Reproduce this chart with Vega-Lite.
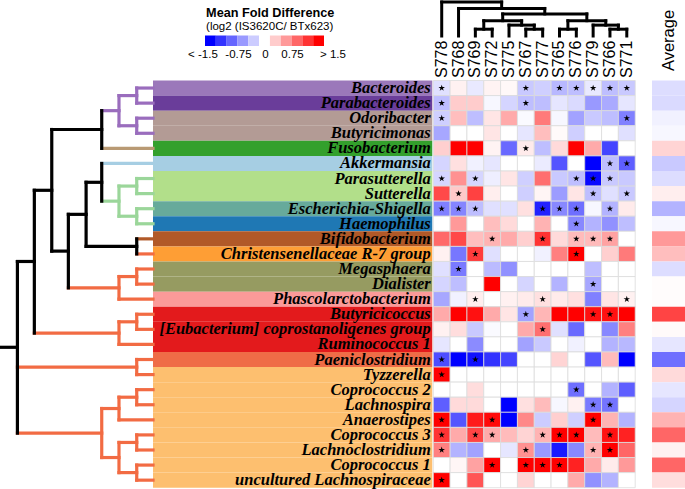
{
"$schema": "https://vega.github.io/schema/vega-lite/v6.json",
"width": 685, "height": 489, "padding": 0, "autosize": {"type": "none"},
"background": "white",
"config": {"view": {"stroke": null}},
"datasets": {
"taxa": [
{"genus":"Bacteroides","family":"Bacteroidaceae"},
{"genus":"Parabacteroides","family":"Tannerellaceae"},
{"genus":"Odoribacter","family":"Marinifilaceae"},
{"genus":"Butyricimonas","family":"Marinifilaceae"},
{"genus":"Fusobacterium","family":"Fusobacteriaceae"},
{"genus":"Akkermansia","family":"Akkermansiaceae"},
{"genus":"Parasutterella","family":"Sutterellaceae"},
{"genus":"Sutterella","family":"Sutterellaceae"},
{"genus":"Escherichia-Shigella","family":"Enterobacteriaceae"},
{"genus":"Haemophilus","family":"Pasteurellaceae"},
{"genus":"Bifidobacterium","family":"Bifidobacteriaceae"},
{"genus":"Christensenellaceae R-7 group","family":"Christensenellaceae"},
{"genus":"Megasphaera","family":"Veillonellaceae"},
{"genus":"Dialister","family":"Veillonellaceae"},
{"genus":"Phascolarctobacterium","family":"Acidaminococcaceae"},
{"genus":"Butyricicoccus","family":"Ruminococcaceae"},
{"genus":"[Eubacterium] coprostanoligenes group","family":"Ruminococcaceae"},
{"genus":"Ruminococcus 1","family":"Ruminococcaceae"},
{"genus":"Paeniclostridium","family":"Peptostreptococcaceae"},
{"genus":"Tyzzerella","family":"Lachnospiraceae"},
{"genus":"Coprococcus 2","family":"Lachnospiraceae"},
{"genus":"Lachnospira","family":"Lachnospiraceae"},
{"genus":"Anaerostipes","family":"Lachnospiraceae"},
{"genus":"Coprococcus 3","family":"Lachnospiraceae"},
{"genus":"Lachnoclostridium","family":"Lachnospiraceae"},
{"genus":"Coprococcus 1","family":"Lachnospiraceae"},
{"genus":"uncultured Lachnospiraceae","family":"Lachnospiraceae"}
],
"avg": [
{"genus":"Bacteroides","value":-0.2},
{"genus":"Parabacteroides","value":-0.22},
{"genus":"Odoribacter","value":-0.08},
{"genus":"Butyricimonas","value":-0.05},
{"genus":"Fusobacterium","value":0.25},
{"genus":"Akkermansia","value":-0.32},
{"genus":"Parasutterella","value":-0.2},
{"genus":"Sutterella","value":0.1},
{"genus":"Escherichia-Shigella","value":-0.45},
{"genus":"Haemophilus","value":-0.05},
{"genus":"Bifidobacterium","value":0.6},
{"genus":"Christensenellaceae R-7 group","value":0.38},
{"genus":"Megasphaera","value":-0.2},
{"genus":"Dialister","value":0.02},
{"genus":"Phascolarctobacterium","value":0.02},
{"genus":"Butyricicoccus","value":1.1},
{"genus":"[Eubacterium] coprostanoligenes group","value":0.03},
{"genus":"Ruminococcus 1","value":-0.15},
{"genus":"Paeniclostridium","value":-0.85},
{"genus":"Tyzzerella","value":0.22},
{"genus":"Coprococcus 2","value":-0.15},
{"genus":"Lachnospira","value":-0.25},
{"genus":"Anaerostipes","value":0.45},
{"genus":"Coprococcus 3","value":0.9},
{"genus":"Lachnoclostridium","value":0.08},
{"genus":"Coprococcus 1","value":0.9},
{"genus":"uncultured Lachnospiraceae","value":0.2}
],
"cells": [
{"genus":"Bacteroides","sample":"S778","value":-0.18,"sig":1},{"genus":"Bacteroides","sample":"S768","value":0.08,"sig":0},{"genus":"Bacteroides","sample":"S769","value":-0.13,"sig":0},{"genus":"Bacteroides","sample":"S772","value":0.07,"sig":0},{"genus":"Bacteroides","sample":"S775","value":0.04,"sig":0},{"genus":"Bacteroides","sample":"S767","value":-0.32,"sig":1},{"genus":"Bacteroides","sample":"S777","value":-0.28,"sig":0},{"genus":"Bacteroides","sample":"S765","value":-0.42,"sig":1},{"genus":"Bacteroides","sample":"S776","value":-0.38,"sig":1},{"genus":"Bacteroides","sample":"S779","value":-0.13,"sig":1},{"genus":"Bacteroides","sample":"S766","value":-0.38,"sig":1},{"genus":"Bacteroides","sample":"S771","value":-0.32,"sig":1},
{"genus":"Parabacteroides","sample":"S778","value":-0.38,"sig":1},{"genus":"Parabacteroides","sample":"S768","value":0.3,"sig":0},{"genus":"Parabacteroides","sample":"S769","value":0.3,"sig":0},{"genus":"Parabacteroides","sample":"S772","value":-0.05,"sig":0},{"genus":"Parabacteroides","sample":"S775","value":-0.25,"sig":0},{"genus":"Parabacteroides","sample":"S767","value":-0.38,"sig":1},{"genus":"Parabacteroides","sample":"S777","value":-0.38,"sig":0},{"genus":"Parabacteroides","sample":"S765","value":-0.15,"sig":0},{"genus":"Parabacteroides","sample":"S776","value":-0.22,"sig":0},{"genus":"Parabacteroides","sample":"S779","value":-0.6,"sig":0},{"genus":"Parabacteroides","sample":"S766","value":-0.5,"sig":0},{"genus":"Parabacteroides","sample":"S771","value":-0.15,"sig":0},
{"genus":"Odoribacter","sample":"S778","value":-0.28,"sig":1},{"genus":"Odoribacter","sample":"S768","value":0.38,"sig":0},{"genus":"Odoribacter","sample":"S769","value":-0.38,"sig":0},{"genus":"Odoribacter","sample":"S772","value":0.15,"sig":0},{"genus":"Odoribacter","sample":"S775","value":0.5,"sig":0},{"genus":"Odoribacter","sample":"S767","value":-0.03,"sig":0},{"genus":"Odoribacter","sample":"S777","value":0.78,"sig":0},{"genus":"Odoribacter","sample":"S765","value":-0.05,"sig":0},{"genus":"Odoribacter","sample":"S776","value":-0.55,"sig":0},{"genus":"Odoribacter","sample":"S779","value":-0.32,"sig":0},{"genus":"Odoribacter","sample":"S766","value":-0.38,"sig":0},{"genus":"Odoribacter","sample":"S771","value":-0.75,"sig":1},
{"genus":"Butyricimonas","sample":"S778","value":-0.52,"sig":0},{"genus":"Butyricimonas","sample":"S768","value":0,"sig":0},{"genus":"Butyricimonas","sample":"S769","value":0,"sig":0},{"genus":"Butyricimonas","sample":"S772","value":0.15,"sig":0},{"genus":"Butyricimonas","sample":"S775","value":0,"sig":0},{"genus":"Butyricimonas","sample":"S767","value":-0.15,"sig":0},{"genus":"Butyricimonas","sample":"S777","value":0.38,"sig":0},{"genus":"Butyricimonas","sample":"S765","value":0.03,"sig":0},{"genus":"Butyricimonas","sample":"S776","value":-0.28,"sig":0},{"genus":"Butyricimonas","sample":"S779","value":0,"sig":0},{"genus":"Butyricimonas","sample":"S766","value":0,"sig":0},{"genus":"Butyricimonas","sample":"S771","value":-0.18,"sig":0},
{"genus":"Fusobacterium","sample":"S778","value":0.28,"sig":0},{"genus":"Fusobacterium","sample":"S768","value":1.5,"sig":0},{"genus":"Fusobacterium","sample":"S769","value":1.5,"sig":0},{"genus":"Fusobacterium","sample":"S772","value":0.07,"sig":0},{"genus":"Fusobacterium","sample":"S775","value":-0.88,"sig":0},{"genus":"Fusobacterium","sample":"S767","value":0.12,"sig":1},{"genus":"Fusobacterium","sample":"S777","value":-0.38,"sig":0},{"genus":"Fusobacterium","sample":"S765","value":0.22,"sig":0},{"genus":"Fusobacterium","sample":"S776","value":1.5,"sig":0},{"genus":"Fusobacterium","sample":"S779","value":0.5,"sig":0},{"genus":"Fusobacterium","sample":"S766","value":-1.1,"sig":0},{"genus":"Fusobacterium","sample":"S771","value":0,"sig":0},
{"genus":"Akkermansia","sample":"S778","value":-0.25,"sig":0},{"genus":"Akkermansia","sample":"S768","value":0.18,"sig":0},{"genus":"Akkermansia","sample":"S769","value":-0.08,"sig":0},{"genus":"Akkermansia","sample":"S772","value":-0.15,"sig":0},{"genus":"Akkermansia","sample":"S775","value":0,"sig":0},{"genus":"Akkermansia","sample":"S767","value":0,"sig":0},{"genus":"Akkermansia","sample":"S777","value":-0.12,"sig":0},{"genus":"Akkermansia","sample":"S765","value":-1.0,"sig":0},{"genus":"Akkermansia","sample":"S776","value":0,"sig":0},{"genus":"Akkermansia","sample":"S779","value":-1.5,"sig":0},{"genus":"Akkermansia","sample":"S766","value":-0.38,"sig":1},{"genus":"Akkermansia","sample":"S771","value":-0.95,"sig":1},
{"genus":"Parasutterella","sample":"S778","value":-0.25,"sig":1},{"genus":"Parasutterella","sample":"S768","value":0.65,"sig":0},{"genus":"Parasutterella","sample":"S769","value":-0.25,"sig":1},{"genus":"Parasutterella","sample":"S772","value":-0.1,"sig":0},{"genus":"Parasutterella","sample":"S775","value":0.15,"sig":0},{"genus":"Parasutterella","sample":"S767","value":-0.28,"sig":0},{"genus":"Parasutterella","sample":"S777","value":0.85,"sig":0},{"genus":"Parasutterella","sample":"S765","value":-0.32,"sig":0},{"genus":"Parasutterella","sample":"S776","value":-0.38,"sig":1},{"genus":"Parasutterella","sample":"S779","value":-1.45,"sig":1},{"genus":"Parasutterella","sample":"S766","value":-0.32,"sig":1},{"genus":"Parasutterella","sample":"S771","value":-0.32,"sig":0},
{"genus":"Sutterella","sample":"S778","value":1.07,"sig":0},{"genus":"Sutterella","sample":"S768","value":0.32,"sig":1},{"genus":"Sutterella","sample":"S769","value":1.12,"sig":0},{"genus":"Sutterella","sample":"S772","value":0.1,"sig":0},{"genus":"Sutterella","sample":"S775","value":0,"sig":0},{"genus":"Sutterella","sample":"S767","value":-0.28,"sig":0},{"genus":"Sutterella","sample":"S777","value":0.06,"sig":0},{"genus":"Sutterella","sample":"S765","value":-0.58,"sig":0},{"genus":"Sutterella","sample":"S776","value":0.15,"sig":0},{"genus":"Sutterella","sample":"S779","value":-0.38,"sig":1},{"genus":"Sutterella","sample":"S766","value":-0.18,"sig":0},{"genus":"Sutterella","sample":"S771","value":-0.32,"sig":1},
{"genus":"Escherichia-Shigella","sample":"S778","value":-0.75,"sig":1},{"genus":"Escherichia-Shigella","sample":"S768","value":-0.72,"sig":1},{"genus":"Escherichia-Shigella","sample":"S769","value":-0.38,"sig":1},{"genus":"Escherichia-Shigella","sample":"S772","value":-0.18,"sig":0},{"genus":"Escherichia-Shigella","sample":"S775","value":-0.18,"sig":0},{"genus":"Escherichia-Shigella","sample":"S767","value":0.18,"sig":0},{"genus":"Escherichia-Shigella","sample":"S777","value":-1.3,"sig":1},{"genus":"Escherichia-Shigella","sample":"S765","value":-0.7,"sig":1},{"genus":"Escherichia-Shigella","sample":"S776","value":-0.85,"sig":1},{"genus":"Escherichia-Shigella","sample":"S779","value":-0.05,"sig":0},{"genus":"Escherichia-Shigella","sample":"S766","value":-0.45,"sig":1},{"genus":"Escherichia-Shigella","sample":"S771","value":0.12,"sig":0},
{"genus":"Haemophilus","sample":"S778","value":0,"sig":0},{"genus":"Haemophilus","sample":"S768","value":0.6,"sig":0},{"genus":"Haemophilus","sample":"S769","value":0,"sig":0},{"genus":"Haemophilus","sample":"S772","value":0.38,"sig":0},{"genus":"Haemophilus","sample":"S775","value":0.22,"sig":0},{"genus":"Haemophilus","sample":"S767","value":0,"sig":0},{"genus":"Haemophilus","sample":"S777","value":0.45,"sig":0},{"genus":"Haemophilus","sample":"S765","value":0,"sig":0},{"genus":"Haemophilus","sample":"S776","value":-0.7,"sig":1},{"genus":"Haemophilus","sample":"S779","value":-0.45,"sig":0},{"genus":"Haemophilus","sample":"S766","value":-0.65,"sig":0},{"genus":"Haemophilus","sample":"S771","value":-0.38,"sig":0},
{"genus":"Bifidobacterium","sample":"S778","value":0.88,"sig":0},{"genus":"Bifidobacterium","sample":"S768","value":1.07,"sig":0},{"genus":"Bifidobacterium","sample":"S769","value":0.38,"sig":0},{"genus":"Bifidobacterium","sample":"S772","value":0.45,"sig":1},{"genus":"Bifidobacterium","sample":"S775","value":0.5,"sig":0},{"genus":"Bifidobacterium","sample":"S767","value":0.28,"sig":0},{"genus":"Bifidobacterium","sample":"S777","value":1.2,"sig":1},{"genus":"Bifidobacterium","sample":"S765","value":0.22,"sig":0},{"genus":"Bifidobacterium","sample":"S776","value":0.4,"sig":1},{"genus":"Bifidobacterium","sample":"S779","value":0.4,"sig":1},{"genus":"Bifidobacterium","sample":"S766","value":0.55,"sig":1},{"genus":"Bifidobacterium","sample":"S771","value":0,"sig":0},
{"genus":"Christensenellaceae R-7 group","sample":"S778","value":0.08,"sig":0},{"genus":"Christensenellaceae R-7 group","sample":"S768","value":-0.8,"sig":0},{"genus":"Christensenellaceae R-7 group","sample":"S769","value":1.15,"sig":1},{"genus":"Christensenellaceae R-7 group","sample":"S772","value":-0.18,"sig":0},{"genus":"Christensenellaceae R-7 group","sample":"S775","value":0,"sig":0},{"genus":"Christensenellaceae R-7 group","sample":"S767","value":0,"sig":0},{"genus":"Christensenellaceae R-7 group","sample":"S777","value":-0.08,"sig":0},{"genus":"Christensenellaceae R-7 group","sample":"S765","value":0.75,"sig":0},{"genus":"Christensenellaceae R-7 group","sample":"S776","value":1.5,"sig":1},{"genus":"Christensenellaceae R-7 group","sample":"S779","value":0,"sig":0},{"genus":"Christensenellaceae R-7 group","sample":"S766","value":0.28,"sig":0},{"genus":"Christensenellaceae R-7 group","sample":"S771","value":0.78,"sig":0},
{"genus":"Megasphaera","sample":"S778","value":-0.18,"sig":0},{"genus":"Megasphaera","sample":"S768","value":-0.78,"sig":1},{"genus":"Megasphaera","sample":"S769","value":0,"sig":0},{"genus":"Megasphaera","sample":"S772","value":-0.4,"sig":0},{"genus":"Megasphaera","sample":"S775","value":-0.65,"sig":0},{"genus":"Megasphaera","sample":"S767","value":0,"sig":0},{"genus":"Megasphaera","sample":"S777","value":0,"sig":0},{"genus":"Megasphaera","sample":"S765","value":0,"sig":0},{"genus":"Megasphaera","sample":"S776","value":0,"sig":0},{"genus":"Megasphaera","sample":"S779","value":-0.38,"sig":0},{"genus":"Megasphaera","sample":"S766","value":0,"sig":0},{"genus":"Megasphaera","sample":"S771","value":0,"sig":0},
{"genus":"Dialister","sample":"S778","value":-0.25,"sig":0},{"genus":"Dialister","sample":"S768","value":-0.38,"sig":0},{"genus":"Dialister","sample":"S769","value":0,"sig":0},{"genus":"Dialister","sample":"S772","value":1.5,"sig":0},{"genus":"Dialister","sample":"S775","value":0,"sig":0},{"genus":"Dialister","sample":"S767","value":-0.25,"sig":0},{"genus":"Dialister","sample":"S777","value":0,"sig":0},{"genus":"Dialister","sample":"S765","value":-0.45,"sig":0},{"genus":"Dialister","sample":"S776","value":0,"sig":0},{"genus":"Dialister","sample":"S779","value":-0.52,"sig":1},{"genus":"Dialister","sample":"S766","value":0,"sig":0},{"genus":"Dialister","sample":"S771","value":0,"sig":0},
{"genus":"Phascolarctobacterium","sample":"S778","value":-0.52,"sig":0},{"genus":"Phascolarctobacterium","sample":"S768","value":-0.08,"sig":0},{"genus":"Phascolarctobacterium","sample":"S769","value":0.1,"sig":1},{"genus":"Phascolarctobacterium","sample":"S772","value":0,"sig":0},{"genus":"Phascolarctobacterium","sample":"S775","value":0.08,"sig":0},{"genus":"Phascolarctobacterium","sample":"S767","value":0.12,"sig":0},{"genus":"Phascolarctobacterium","sample":"S777","value":0.18,"sig":1},{"genus":"Phascolarctobacterium","sample":"S765","value":0.12,"sig":0},{"genus":"Phascolarctobacterium","sample":"S776","value":0.18,"sig":0},{"genus":"Phascolarctobacterium","sample":"S779","value":-0.75,"sig":0},{"genus":"Phascolarctobacterium","sample":"S766","value":0.15,"sig":0},{"genus":"Phascolarctobacterium","sample":"S771","value":0.08,"sig":1},
{"genus":"Butyricicoccus","sample":"S778","value":0.5,"sig":0},{"genus":"Butyricicoccus","sample":"S768","value":1.5,"sig":0},{"genus":"Butyricicoccus","sample":"S769","value":1.4,"sig":0},{"genus":"Butyricicoccus","sample":"S772","value":0.5,"sig":0},{"genus":"Butyricicoccus","sample":"S775","value":0.15,"sig":0},{"genus":"Butyricicoccus","sample":"S767","value":-0.55,"sig":1},{"genus":"Butyricicoccus","sample":"S777","value":0.43,"sig":0},{"genus":"Butyricicoccus","sample":"S765","value":1.5,"sig":0},{"genus":"Butyricicoccus","sample":"S776","value":1.5,"sig":0},{"genus":"Butyricicoccus","sample":"S779","value":1.4,"sig":1},{"genus":"Butyricicoccus","sample":"S766","value":1.4,"sig":1},{"genus":"Butyricicoccus","sample":"S771","value":1.5,"sig":0},
{"genus":"[Eubacterium] coprostanoligenes group","sample":"S778","value":0.08,"sig":0},{"genus":"[Eubacterium] coprostanoligenes group","sample":"S768","value":0.2,"sig":0},{"genus":"[Eubacterium] coprostanoligenes group","sample":"S769","value":-0.32,"sig":0},{"genus":"[Eubacterium] coprostanoligenes group","sample":"S772","value":-0.03,"sig":0},{"genus":"[Eubacterium] coprostanoligenes group","sample":"S775","value":0,"sig":0},{"genus":"[Eubacterium] coprostanoligenes group","sample":"S767","value":0.5,"sig":0},{"genus":"[Eubacterium] coprostanoligenes group","sample":"S777","value":0.85,"sig":1},{"genus":"[Eubacterium] coprostanoligenes group","sample":"S765","value":-0.18,"sig":0},{"genus":"[Eubacterium] coprostanoligenes group","sample":"S776","value":-0.88,"sig":0},{"genus":"[Eubacterium] coprostanoligenes group","sample":"S779","value":0,"sig":0},{"genus":"[Eubacterium] coprostanoligenes group","sample":"S766","value":-0.7,"sig":0},{"genus":"[Eubacterium] coprostanoligenes group","sample":"S771","value":0.75,"sig":0},
{"genus":"Ruminococcus 1","sample":"S778","value":-0.15,"sig":0},{"genus":"Ruminococcus 1","sample":"S768","value":0,"sig":0},{"genus":"Ruminococcus 1","sample":"S769","value":-0.68,"sig":0},{"genus":"Ruminococcus 1","sample":"S772","value":0,"sig":0},{"genus":"Ruminococcus 1","sample":"S775","value":0,"sig":0},{"genus":"Ruminococcus 1","sample":"S767","value":-0.55,"sig":0},{"genus":"Ruminococcus 1","sample":"S777","value":-0.32,"sig":0},{"genus":"Ruminococcus 1","sample":"S765","value":0,"sig":0},{"genus":"Ruminococcus 1","sample":"S776","value":-0.08,"sig":0},{"genus":"Ruminococcus 1","sample":"S779","value":0,"sig":0},{"genus":"Ruminococcus 1","sample":"S766","value":-0.45,"sig":0},{"genus":"Ruminococcus 1","sample":"S771","value":-0.42,"sig":0},
{"genus":"Paeniclostridium","sample":"S778","value":-1.05,"sig":1},{"genus":"Paeniclostridium","sample":"S768","value":-1.5,"sig":0},{"genus":"Paeniclostridium","sample":"S769","value":-1.4,"sig":1},{"genus":"Paeniclostridium","sample":"S772","value":-1.2,"sig":0},{"genus":"Paeniclostridium","sample":"S775","value":-1.1,"sig":0},{"genus":"Paeniclostridium","sample":"S767","value":0,"sig":0},{"genus":"Paeniclostridium","sample":"S777","value":0,"sig":0},{"genus":"Paeniclostridium","sample":"S765","value":0.25,"sig":0},{"genus":"Paeniclostridium","sample":"S776","value":0,"sig":0},{"genus":"Paeniclostridium","sample":"S779","value":-1.0,"sig":0},{"genus":"Paeniclostridium","sample":"S766","value":0.4,"sig":0},{"genus":"Paeniclostridium","sample":"S771","value":-1.5,"sig":0},
{"genus":"Tyzzerella","sample":"S778","value":1.5,"sig":1},{"genus":"Tyzzerella","sample":"S768","value":0,"sig":0},{"genus":"Tyzzerella","sample":"S769","value":0,"sig":0},{"genus":"Tyzzerella","sample":"S772","value":0,"sig":0},{"genus":"Tyzzerella","sample":"S775","value":0,"sig":0},{"genus":"Tyzzerella","sample":"S767","value":0,"sig":0},{"genus":"Tyzzerella","sample":"S777","value":0,"sig":0},{"genus":"Tyzzerella","sample":"S765","value":0,"sig":0},{"genus":"Tyzzerella","sample":"S776","value":0,"sig":0},{"genus":"Tyzzerella","sample":"S779","value":0,"sig":0},{"genus":"Tyzzerella","sample":"S766","value":0,"sig":0},{"genus":"Tyzzerella","sample":"S771","value":0,"sig":0},
{"genus":"Coprococcus 2","sample":"S778","value":0,"sig":0},{"genus":"Coprococcus 2","sample":"S768","value":0,"sig":0},{"genus":"Coprococcus 2","sample":"S769","value":0.2,"sig":0},{"genus":"Coprococcus 2","sample":"S772","value":0,"sig":0},{"genus":"Coprococcus 2","sample":"S775","value":0,"sig":0},{"genus":"Coprococcus 2","sample":"S767","value":0,"sig":0},{"genus":"Coprococcus 2","sample":"S777","value":0,"sig":0},{"genus":"Coprococcus 2","sample":"S765","value":0,"sig":0},{"genus":"Coprococcus 2","sample":"S776","value":-0.85,"sig":1},{"genus":"Coprococcus 2","sample":"S779","value":0,"sig":0},{"genus":"Coprococcus 2","sample":"S766","value":-0.45,"sig":0},{"genus":"Coprococcus 2","sample":"S771","value":-0.95,"sig":0},
{"genus":"Lachnospira","sample":"S778","value":-0.95,"sig":0},{"genus":"Lachnospira","sample":"S768","value":0.22,"sig":0},{"genus":"Lachnospira","sample":"S769","value":0.22,"sig":0},{"genus":"Lachnospira","sample":"S772","value":0,"sig":0},{"genus":"Lachnospira","sample":"S775","value":-1.5,"sig":0},{"genus":"Lachnospira","sample":"S767","value":0.18,"sig":0},{"genus":"Lachnospira","sample":"S777","value":0.4,"sig":0},{"genus":"Lachnospira","sample":"S765","value":-0.05,"sig":0},{"genus":"Lachnospira","sample":"S776","value":0.08,"sig":0},{"genus":"Lachnospira","sample":"S779","value":-0.78,"sig":1},{"genus":"Lachnospira","sample":"S766","value":-0.82,"sig":1},{"genus":"Lachnospira","sample":"S771","value":0,"sig":0},
{"genus":"Anaerostipes","sample":"S778","value":1.5,"sig":1},{"genus":"Anaerostipes","sample":"S768","value":-1.0,"sig":0},{"genus":"Anaerostipes","sample":"S769","value":1.35,"sig":0},{"genus":"Anaerostipes","sample":"S772","value":1.45,"sig":1},{"genus":"Anaerostipes","sample":"S775","value":-1.5,"sig":0},{"genus":"Anaerostipes","sample":"S767","value":0.7,"sig":0},{"genus":"Anaerostipes","sample":"S777","value":-0.3,"sig":0},{"genus":"Anaerostipes","sample":"S765","value":0.28,"sig":0},{"genus":"Anaerostipes","sample":"S776","value":-0.28,"sig":0},{"genus":"Anaerostipes","sample":"S779","value":1.5,"sig":1},{"genus":"Anaerostipes","sample":"S766","value":0.45,"sig":0},{"genus":"Anaerostipes","sample":"S771","value":-0.45,"sig":0},
{"genus":"Coprococcus 3","sample":"S778","value":1.2,"sig":1},{"genus":"Coprococcus 3","sample":"S768","value":0.5,"sig":0},{"genus":"Coprococcus 3","sample":"S769","value":1.1,"sig":1},{"genus":"Coprococcus 3","sample":"S772","value":0.5,"sig":1},{"genus":"Coprococcus 3","sample":"S775","value":0.4,"sig":0},{"genus":"Coprococcus 3","sample":"S767","value":0.25,"sig":0},{"genus":"Coprococcus 3","sample":"S777","value":0.45,"sig":1},{"genus":"Coprococcus 3","sample":"S765","value":1.5,"sig":1},{"genus":"Coprococcus 3","sample":"S776","value":1.5,"sig":1},{"genus":"Coprococcus 3","sample":"S779","value":0.4,"sig":0},{"genus":"Coprococcus 3","sample":"S766","value":1.4,"sig":1},{"genus":"Coprococcus 3","sample":"S771","value":1.3,"sig":0},
{"genus":"Lachnoclostridium","sample":"S778","value":0.75,"sig":1},{"genus":"Lachnoclostridium","sample":"S768","value":-0.45,"sig":0},{"genus":"Lachnoclostridium","sample":"S769","value":-0.55,"sig":0},{"genus":"Lachnoclostridium","sample":"S772","value":0,"sig":0},{"genus":"Lachnoclostridium","sample":"S775","value":-0.15,"sig":0},{"genus":"Lachnoclostridium","sample":"S767","value":0.65,"sig":1},{"genus":"Lachnoclostridium","sample":"S777","value":-0.6,"sig":0},{"genus":"Lachnoclostridium","sample":"S765","value":-1.35,"sig":0},{"genus":"Lachnoclostridium","sample":"S776","value":-0.7,"sig":0},{"genus":"Lachnoclostridium","sample":"S779","value":0.45,"sig":1},{"genus":"Lachnoclostridium","sample":"S766","value":1.5,"sig":1},{"genus":"Lachnoclostridium","sample":"S771","value":0.9,"sig":0},
{"genus":"Coprococcus 1","sample":"S778","value":0,"sig":0},{"genus":"Coprococcus 1","sample":"S768","value":0.05,"sig":0},{"genus":"Coprococcus 1","sample":"S769","value":0.55,"sig":0},{"genus":"Coprococcus 1","sample":"S772","value":1.5,"sig":1},{"genus":"Coprococcus 1","sample":"S775","value":0,"sig":0},{"genus":"Coprococcus 1","sample":"S767","value":1.5,"sig":1},{"genus":"Coprococcus 1","sample":"S777","value":1.5,"sig":1},{"genus":"Coprococcus 1","sample":"S765","value":1.5,"sig":1},{"genus":"Coprococcus 1","sample":"S776","value":1.3,"sig":0},{"genus":"Coprococcus 1","sample":"S779","value":0.5,"sig":0},{"genus":"Coprococcus 1","sample":"S766","value":0.12,"sig":0},{"genus":"Coprococcus 1","sample":"S771","value":0.6,"sig":0},
{"genus":"uncultured Lachnospiraceae","sample":"S778","value":1.5,"sig":1},{"genus":"uncultured Lachnospiraceae","sample":"S768","value":0,"sig":0},{"genus":"uncultured Lachnospiraceae","sample":"S769","value":1.0,"sig":0},{"genus":"uncultured Lachnospiraceae","sample":"S772","value":0,"sig":0},{"genus":"uncultured Lachnospiraceae","sample":"S775","value":0,"sig":0},{"genus":"uncultured Lachnospiraceae","sample":"S767","value":0.25,"sig":0},{"genus":"uncultured Lachnospiraceae","sample":"S777","value":0,"sig":0},{"genus":"uncultured Lachnospiraceae","sample":"S765","value":0,"sig":0},{"genus":"uncultured Lachnospiraceae","sample":"S776","value":0.5,"sig":0},{"genus":"uncultured Lachnospiraceae","sample":"S779","value":-0.65,"sig":0},{"genus":"uncultured Lachnospiraceae","sample":"S766","value":-0.45,"sig":0},{"genus":"uncultured Lachnospiraceae","sample":"S771","value":0,"sig":0}
],
"samples": [{"sample":"S778"},{"sample":"S768"},{"sample":"S769"},{"sample":"S772"},{"sample":"S775"},{"sample":"S767"},{"sample":"S777"},{"sample":"S765"},{"sample":"S776"},{"sample":"S779"},{"sample":"S766"},{"sample":"S771"}],
"rowtree": [
{"h":0,"h2":1,"r":0.5,"r2":0.5,"clade":"Bacteroidetes"},{"h":0,"h2":1,"r":1.5,"r2":1.5,"clade":"Bacteroidetes"},{"h":1,"h2":1,"r":0.5,"r2":1.5,"clade":"Bacteroidetes"},
{"h":0,"h2":1,"r":2.5,"r2":2.5,"clade":"Bacteroidetes"},{"h":0,"h2":1,"r":3.5,"r2":3.5,"clade":"Bacteroidetes"},{"h":1,"h2":1,"r":2.5,"r2":3.5,"clade":"Bacteroidetes"},
{"h":1,"h2":2.09,"r":1,"r2":1,"clade":"Bacteroidetes"},{"h":1,"h2":2.09,"r":3,"r2":3,"clade":"Bacteroidetes"},{"h":2.09,"h2":2.09,"r":1,"r2":3,"clade":"Bacteroidetes"},{"h":2.09,"h2":3.15,"r":2,"r2":2,"clade":"Bacteroidetes"},
{"h":0,"h2":3.15,"r":4.5,"r2":4.5,"clade":"Fusobacteria"},
{"h":3.15,"h2":3.15,"r":2,"r2":4.5,"clade":"internal"},{"h":3.15,"h2":6.22,"r":3.25,"r2":3.25,"clade":"internal"},
{"h":0,"h2":3.15,"r":5.5,"r2":5.5,"clade":"Verrucomicrobia"},
{"h":0,"h2":1,"r":6.5,"r2":6.5,"clade":"Proteobacteria"},{"h":0,"h2":1,"r":7.5,"r2":7.5,"clade":"Proteobacteria"},{"h":1,"h2":1,"r":6.5,"r2":7.5,"clade":"Proteobacteria"},
{"h":0,"h2":1,"r":8.5,"r2":8.5,"clade":"Proteobacteria"},{"h":0,"h2":1,"r":9.5,"r2":9.5,"clade":"Proteobacteria"},{"h":1,"h2":1,"r":8.5,"r2":9.5,"clade":"Proteobacteria"},
{"h":1,"h2":2.09,"r":7,"r2":7,"clade":"Proteobacteria"},{"h":1,"h2":2.09,"r":9,"r2":9,"clade":"Proteobacteria"},{"h":2.09,"h2":2.09,"r":7,"r2":9,"clade":"Proteobacteria"},{"h":2.09,"h2":3.15,"r":8,"r2":8,"clade":"Proteobacteria"},
{"h":3.15,"h2":3.15,"r":5.5,"r2":8,"clade":"internal"},{"h":3.15,"h2":4.11,"r":6.75,"r2":6.75,"clade":"internal"},
{"h":0,"h2":1,"r":10.5,"r2":10.5,"clade":"Actinobacteria"},{"h":0,"h2":1,"r":11.5,"r2":11.5,"clade":"Firmicutes"},
{"h":1,"h2":1,"r":10.5,"r2":11.5,"clade":"internal"},{"h":1,"h2":4.11,"r":11,"r2":11,"clade":"internal"},{"h":4.11,"h2":4.11,"r":6.75,"r2":11,"clade":"internal"},{"h":4.11,"h2":5.2,"r":8.875,"r2":8.875,"clade":"internal"},
{"h":0,"h2":1,"r":12.5,"r2":12.5,"clade":"Firmicutes"},{"h":0,"h2":1,"r":13.5,"r2":13.5,"clade":"Firmicutes"},{"h":1,"h2":1,"r":12.5,"r2":13.5,"clade":"Firmicutes"},{"h":1,"h2":2.09,"r":13,"r2":13,"clade":"Firmicutes"},{"h":0,"h2":2.09,"r":14.5,"r2":14.5,"clade":"Firmicutes"},{"h":2.09,"h2":2.09,"r":13,"r2":14.5,"clade":"Firmicutes"},{"h":2.09,"h2":5.2,"r":13.75,"r2":13.75,"clade":"Firmicutes"},
{"h":5.2,"h2":5.2,"r":8.875,"r2":13.75,"clade":"internal"},{"h":5.2,"h2":6.22,"r":11.3125,"r2":11.3125,"clade":"internal"},{"h":6.22,"h2":6.22,"r":3.25,"r2":11.3125,"clade":"internal"},{"h":6.22,"h2":7.29,"r":7.28,"r2":7.28,"clade":"internal"},
{"h":0,"h2":1,"r":15.5,"r2":15.5,"clade":"Firmicutes"},{"h":0,"h2":1,"r":16.5,"r2":16.5,"clade":"Firmicutes"},{"h":1,"h2":1,"r":15.5,"r2":16.5,"clade":"Firmicutes"},{"h":1,"h2":2.09,"r":16,"r2":16,"clade":"Firmicutes"},{"h":0,"h2":2.09,"r":17.5,"r2":17.5,"clade":"Firmicutes"},{"h":2.09,"h2":2.09,"r":16,"r2":17.5,"clade":"Firmicutes"},{"h":2.09,"h2":7.29,"r":16.75,"r2":16.75,"clade":"Firmicutes"},
{"h":7.29,"h2":7.29,"r":7.28,"r2":16.75,"clade":"internal"},{"h":7.29,"h2":8.33,"r":12,"r2":12,"clade":"internal"},
{"h":0,"h2":1,"r":18.5,"r2":18.5,"clade":"Firmicutes"},{"h":0,"h2":1,"r":19.5,"r2":19.5,"clade":"Firmicutes"},{"h":1,"h2":1,"r":18.5,"r2":19.5,"clade":"Firmicutes"},{"h":1,"h2":8.33,"r":19,"r2":19,"clade":"Firmicutes"},
{"h":0,"h2":1,"r":20.5,"r2":20.5,"clade":"Firmicutes"},{"h":0,"h2":1,"r":21.5,"r2":21.5,"clade":"Firmicutes"},{"h":1,"h2":1,"r":20.5,"r2":21.5,"clade":"Firmicutes"},{"h":1,"h2":2.09,"r":21,"r2":21,"clade":"Firmicutes"},{"h":0,"h2":2.09,"r":22.5,"r2":22.5,"clade":"Firmicutes"},{"h":2.09,"h2":2.09,"r":21,"r2":22.5,"clade":"Firmicutes"},{"h":2.09,"h2":3.15,"r":21.75,"r2":21.75,"clade":"Firmicutes"},
{"h":0,"h2":1,"r":23.5,"r2":23.5,"clade":"Firmicutes"},{"h":0,"h2":1,"r":24.5,"r2":24.5,"clade":"Firmicutes"},{"h":1,"h2":1,"r":23.5,"r2":24.5,"clade":"Firmicutes"},{"h":1,"h2":2.09,"r":24,"r2":24,"clade":"Firmicutes"},
{"h":0,"h2":1,"r":25.5,"r2":25.5,"clade":"Firmicutes"},{"h":0,"h2":1,"r":26.5,"r2":26.5,"clade":"Firmicutes"},{"h":1,"h2":1,"r":25.5,"r2":26.5,"clade":"Firmicutes"},{"h":1,"h2":2.09,"r":26,"r2":26,"clade":"Firmicutes"},
{"h":2.09,"h2":2.09,"r":24,"r2":26,"clade":"Firmicutes"},{"h":2.09,"h2":3.15,"r":25,"r2":25,"clade":"Firmicutes"},{"h":3.15,"h2":3.15,"r":21.75,"r2":25,"clade":"Firmicutes"},{"h":3.15,"h2":8.33,"r":23.375,"r2":23.375,"clade":"Firmicutes"},
{"h":8.33,"h2":8.33,"r":12,"r2":23.375,"clade":"internal"},{"h":8.33,"h2":9.4,"r":17.69,"r2":17.69,"clade":"internal"}
],
"coltree": [
{"c":0.5,"c2":0.5,"d":0,"d2":1},{"c":1.5,"c2":1.5,"d":0,"d2":0.81},{"c":2.5,"c2":2.5,"d":0,"d2":0.2},{"c":3.5,"c2":3.5,"d":0,"d2":0.2},{"c":4.5,"c2":4.5,"d":0,"d2":0.32},{"c":5.5,"c2":5.5,"d":0,"d2":0.2},{"c":6.5,"c2":6.5,"d":0,"d2":0.2},{"c":7.5,"c2":7.5,"d":0,"d2":0.2},{"c":8.5,"c2":8.5,"d":0,"d2":0.2},{"c":9.5,"c2":9.5,"d":0,"d2":0.32},{"c":10.5,"c2":10.5,"d":0,"d2":0.2},{"c":11.5,"c2":11.5,"d":0,"d2":0.2},
{"c":2.5,"c2":3.5,"d":0.2,"d2":0.2},{"c":3,"c2":3,"d":0.2,"d2":0.45},
{"c":5.5,"c2":6.5,"d":0.2,"d2":0.2},{"c":6,"c2":6,"d":0.2,"d2":0.32},
{"c":4.5,"c2":6,"d":0.32,"d2":0.32},{"c":5.25,"c2":5.25,"d":0.32,"d2":0.45},
{"c":3,"c2":5.25,"d":0.45,"d2":0.45},{"c":4.125,"c2":4.125,"d":0.45,"d2":0.65},
{"c":7.5,"c2":8.5,"d":0.2,"d2":0.2},{"c":8,"c2":8,"d":0.2,"d2":0.45},
{"c":10.5,"c2":11.5,"d":0.2,"d2":0.2},{"c":11,"c2":11,"d":0.2,"d2":0.32},
{"c":9.5,"c2":11,"d":0.32,"d2":0.32},{"c":10.25,"c2":10.25,"d":0.32,"d2":0.45},
{"c":8,"c2":10.25,"d":0.45,"d2":0.45},{"c":9.125,"c2":9.125,"d":0.45,"d2":0.65},
{"c":4.125,"c2":9.125,"d":0.65,"d2":0.65},{"c":6.625,"c2":6.625,"d":0.65,"d2":0.81},
{"c":1.5,"c2":6.625,"d":0.81,"d2":0.81},{"c":4.0625,"c2":4.0625,"d":0.81,"d2":1},
{"c":0.5,"c2":4.0625,"d":1,"d2":1}
],
"legend": [{"v":-1.5},{"v":-1.2},{"v":-0.9},{"v":-0.6},{"v":-0.3},{"v":0},{"v":0.3},{"v":0.6},{"v":0.9},{"v":1.2},{"v":1.5}],
"legendlabels": [{"v":-1.5,"label":"< -1.5"},{"v":-0.75,"label":"-0.75"},{"v":0,"label":"0"},{"v":0.75,"label":"0.75"},{"v":1.5,"label":"> 1.5"}]
},
"layer": [
{"data":{"name":"taxa"},"mark":{"type":"rect"},
 "encoding":{
  "x":{"datum":-16.66,"type":"quantitative","scale":{"type":"linear","domain":[0,12],"range":[433.3,635.2],"nice":false,"zero":false},"axis":null},
  "x2":{"datum":-0.06},
  "y":{"field":"genus","type":"nominal","sort":null,"scale":{"type":"band","domain":["Bacteroides","Parabacteroides","Odoribacter","Butyricimonas","Fusobacterium","Akkermansia","Parasutterella","Sutterella","Escherichia-Shigella","Haemophilus","Bifidobacterium","Christensenellaceae R-7 group","Megasphaera","Dialister","Phascolarctobacterium","Butyricicoccus","[Eubacterium] coprostanoligenes group","Ruminococcus 1","Paeniclostridium","Tyzzerella","Coprococcus 2","Lachnospira","Anaerostipes","Coprococcus 3","Lachnoclostridium","Coprococcus 1","uncultured Lachnospiraceae"],"range":[80.5,487.7],"paddingInner":0,"paddingOuter":0},"axis":null},
  "color":{"field":"family","type":"nominal","scale":{"domain":["Bacteroidaceae","Tannerellaceae","Marinifilaceae","Fusobacteriaceae","Akkermansiaceae","Sutterellaceae","Enterobacteriaceae","Pasteurellaceae","Bifidobacteriaceae","Christensenellaceae","Veillonellaceae","Acidaminococcaceae","Ruminococcaceae","Peptostreptococcaceae","Lachnospiraceae"],"range":["#9b78ba","#6a3d9a","#b39b95","#33a02c","#a6cee3","#b2df8a","#67aa9b","#1f78b4","#b15928","#fe9e35","#969b61","#fb9a99","#e31a1c","#ef6c47","#fdbf6f"]},"legend":null}
 }},
{"data":{"name":"taxa"},"mark":{"type":"text","align":"right","baseline":"middle","font":"Liberation Serif","fontStyle":"italic","fontWeight":"bold","fontSize":16.5,"color":"#000000"},
 "encoding":{
  "x":{"datum":-0.15,"type":"quantitative","scale":{"type":"linear","domain":[0,12],"range":[433.3,635.2],"nice":false,"zero":false},"axis":null},
  "y":{"field":"genus","type":"nominal","sort":null,"scale":{"type":"band","domain":["Bacteroides","Parabacteroides","Odoribacter","Butyricimonas","Fusobacterium","Akkermansia","Parasutterella","Sutterella","Escherichia-Shigella","Haemophilus","Bifidobacterium","Christensenellaceae R-7 group","Megasphaera","Dialister","Phascolarctobacterium","Butyricicoccus","[Eubacterium] coprostanoligenes group","Ruminococcus 1","Paeniclostridium","Tyzzerella","Coprococcus 2","Lachnospira","Anaerostipes","Coprococcus 3","Lachnoclostridium","Coprococcus 1","uncultured Lachnospiraceae"],"range":[80.5,487.7],"paddingInner":0,"paddingOuter":0},"axis":null},
  "text":{"field":"genus"}
 }},
{"data":{"name":"cells"},"mark":{"type":"rect","stroke":"#dcdcdc","strokeWidth":0.8},
 "encoding":{
  "x":{"field":"sample","type":"nominal","sort":null,"scale":{"type":"band","domain":["S778","S768","S769","S772","S775","S767","S777","S765","S776","S779","S766","S771"],"range":[433.3,635.2],"paddingInner":0,"paddingOuter":0},"axis":null},
  "y":{"field":"genus","type":"nominal","sort":null,"scale":{"type":"band","domain":["Bacteroides","Parabacteroides","Odoribacter","Butyricimonas","Fusobacterium","Akkermansia","Parasutterella","Sutterella","Escherichia-Shigella","Haemophilus","Bifidobacterium","Christensenellaceae R-7 group","Megasphaera","Dialister","Phascolarctobacterium","Butyricicoccus","[Eubacterium] coprostanoligenes group","Ruminococcus 1","Paeniclostridium","Tyzzerella","Coprococcus 2","Lachnospira","Anaerostipes","Coprococcus 3","Lachnoclostridium","Coprococcus 1","uncultured Lachnospiraceae"],"range":[80.5,487.7],"paddingInner":0,"paddingOuter":0},"axis":null},
  "color":{"field":"value","type":"quantitative","scale":{"type":"linear","domain":[-1.5,0,1.5],"range":["#0000ff","#ffffff","#ff0000"],"interpolate":"rgb","clamp":true},"legend":null}
 }},
{"data":{"name":"cells"},"transform":[{"filter":"datum.sig == 1"}],
 "mark":{"type":"point","filled":true,"color":"#000000","opacity":1,"size":46,"strokeWidth":0,"shape":"M0,-1L0.2245,-0.309L0.951,-0.309L0.363,0.118L0.588,0.809L0,0.382L-0.588,0.809L-0.363,0.118L-0.951,-0.309L-0.2245,-0.309Z"},
 "encoding":{
  "x":{"field":"sample","type":"nominal","sort":null,"scale":{"type":"band","domain":["S778","S768","S769","S772","S775","S767","S777","S765","S776","S779","S766","S771"],"range":[433.3,635.2],"paddingInner":0,"paddingOuter":0},"axis":null},
  "y":{"field":"genus","type":"nominal","sort":null,"scale":{"type":"band","domain":["Bacteroides","Parabacteroides","Odoribacter","Butyricimonas","Fusobacterium","Akkermansia","Parasutterella","Sutterella","Escherichia-Shigella","Haemophilus","Bifidobacterium","Christensenellaceae R-7 group","Megasphaera","Dialister","Phascolarctobacterium","Butyricicoccus","[Eubacterium] coprostanoligenes group","Ruminococcus 1","Paeniclostridium","Tyzzerella","Coprococcus 2","Lachnospira","Anaerostipes","Coprococcus 3","Lachnoclostridium","Coprococcus 1","uncultured Lachnospiraceae"],"range":[80.5,487.7],"paddingInner":0,"paddingOuter":0},"axis":null}
 }},
{"data":{"name":"avg"},"mark":{"type":"rect"},
 "encoding":{
  "x":{"datum":13,"type":"quantitative","scale":{"type":"linear","domain":[0,12],"range":[433.3,635.2],"nice":false,"zero":false},"axis":null},
  "x2":{"datum":15},
  "y":{"field":"genus","type":"nominal","sort":null,"scale":{"type":"band","domain":["Bacteroides","Parabacteroides","Odoribacter","Butyricimonas","Fusobacterium","Akkermansia","Parasutterella","Sutterella","Escherichia-Shigella","Haemophilus","Bifidobacterium","Christensenellaceae R-7 group","Megasphaera","Dialister","Phascolarctobacterium","Butyricicoccus","[Eubacterium] coprostanoligenes group","Ruminococcus 1","Paeniclostridium","Tyzzerella","Coprococcus 2","Lachnospira","Anaerostipes","Coprococcus 3","Lachnoclostridium","Coprococcus 1","uncultured Lachnospiraceae"],"range":[80.5,487.7],"paddingInner":0,"paddingOuter":0},"axis":null},
  "color":{"field":"value","type":"quantitative","scale":{"type":"linear","domain":[-1.5,0,1.5],"range":["#0000ff","#ffffff","#ff0000"],"interpolate":"rgb","clamp":true},"legend":null}
 }},
{"data":{"name":"rowtree"},"mark":{"type":"rule","strokeWidth":3.2,"strokeCap":"square"},
 "encoding":{
  "x":{"field":"h","type":"quantitative","scale":{"type":"linear","domain":[0,9.4],"range":[153,0],"nice":false,"zero":false},"axis":null},
  "x2":{"field":"h2"},
  "y":{"field":"r","type":"quantitative","scale":{"type":"linear","domain":[0,27],"range":[80.5,487.7],"nice":false,"zero":false},"axis":null},
  "y2":{"field":"r2"},
  "color":{"field":"clade","type":"nominal","scale":{"domain":["internal","Bacteroidetes","Fusobacteria","Verrucomicrobia","Proteobacteria","Actinobacteria","Firmicutes"],"range":["#000000","#9a6dbd","#b99a74","#a6cee3","#9bd69a","#b15928","#f26b43"]},"legend":null}
 }},
{"data":{"name":"coltree"},"mark":{"type":"rule","strokeWidth":3,"strokeCap":"square","color":"#000000"},
 "encoding":{
  "x":{"field":"c","type":"quantitative","scale":{"type":"linear","domain":[0,12],"range":[433.3,635.2],"nice":false,"zero":false},"axis":null},
  "x2":{"field":"c2"},
  "y":{"field":"d","type":"quantitative","scale":{"type":"linear","domain":[0,1],"range":[36,2],"nice":false,"zero":false},"axis":null},
  "y2":{"field":"d2"}
 }},
{"data":{"name":"samples"},"mark":{"type":"text","angle":270,"align":"left","baseline":"middle","font":"Liberation Sans","fontSize":16,"color":"#000000"},
 "encoding":{
  "x":{"field":"sample","type":"nominal","sort":null,"scale":{"type":"band","domain":["S778","S768","S769","S772","S775","S767","S777","S765","S776","S779","S766","S771"],"range":[433.3,635.2],"paddingInner":0,"paddingOuter":0},"axis":null},
  "y":{"datum":-1.235,"type":"quantitative","scale":{"type":"linear","domain":[0,1],"range":[36,2],"nice":false,"zero":false},"axis":null},
  "text":{"field":"sample"}
 }},
{"data":{"values":[{"label":"Average"}]},"mark":{"type":"text","angle":270,"align":"left","baseline":"middle","font":"Liberation Sans","fontSize":16.5,"color":"#000000"},
 "encoding":{
  "x":{"datum":14,"type":"quantitative","scale":{"type":"linear","domain":[0,12],"range":[433.3,635.2],"nice":false,"zero":false},"axis":null},
  "y":{"datum":-1.03,"type":"quantitative","scale":{"type":"linear","domain":[0,1],"range":[36,2],"nice":false,"zero":false},"axis":null},
  "text":{"field":"label"}
 }},
{"data":{"name":"legend"},"mark":{"type":"rect"},
 "encoding":{
  "x":{"field":"v","type":"ordinal","sort":null,"scale":{"type":"band","domain":[-1.5,-1.2,-0.9,-0.6,-0.3,0,0.3,0.6,0.9,1.2,1.5],"range":[205,324],"paddingInner":0,"paddingOuter":0},"axis":null},
  "y":{"datum":0,"type":"quantitative","scale":{"type":"linear","domain":[0,1],"range":[35.5,46],"nice":false,"zero":false},"axis":null},
  "y2":{"datum":1},
  "color":{"field":"v","type":"quantitative","scale":{"type":"linear","domain":[-1.5,0,1.5],"range":["#0000ff","#ffffff","#ff0000"],"interpolate":"rgb","clamp":true},"legend":null}
 }},
{"data":{"values":[{"label":"Mean Fold Difference"}]},"mark":{"type":"text","align":"left","baseline":"middle","font":"Liberation Sans","fontWeight":"bold","fontSize":12.7,"color":"#000000"},
 "encoding":{
  "x":{"datum":-1.62,"type":"quantitative","scale":{"type":"linear","domain":[-1.65,1.65],"range":[205,324],"nice":false,"zero":false},"axis":null},
  "y":{"datum":-2.14,"type":"quantitative","scale":{"type":"linear","domain":[0,1],"range":[35.5,46],"nice":false,"zero":false},"axis":null},
  "text":{"field":"label"}
 }},
{"data":{"values":[{"label":"(log2 (IS3620C/ BTx623)"}]},"mark":{"type":"text","align":"left","baseline":"middle","font":"Liberation Sans","fontSize":11.5,"color":"#000000"},
 "encoding":{
  "x":{"datum":-1.62,"type":"quantitative","scale":{"type":"linear","domain":[-1.65,1.65],"range":[205,324],"nice":false,"zero":false},"axis":null},
  "y":{"datum":-0.81,"type":"quantitative","scale":{"type":"linear","domain":[0,1],"range":[35.5,46],"nice":false,"zero":false},"axis":null},
  "text":{"field":"label"}
 }},
{"data":{"name":"legendlabels"},"transform":[{"filter":"datum.v == -0.75 || datum.v == 0 || datum.v == 0.75"}],"mark":{"type":"text","align":"center","baseline":"middle","font":"Liberation Sans","fontSize":11.5,"dx":1,"color":"#000000"},
 "encoding":{
  "x":{"field":"v","type":"quantitative","scale":{"type":"linear","domain":[-1.65,1.65],"range":[205,324],"nice":false,"zero":false},"axis":null},
  "y":{"datum":1.86,"type":"quantitative","scale":{"type":"linear","domain":[0,1],"range":[35.5,46],"nice":false,"zero":false},"axis":null},
  "text":{"field":"label"}
 }},
{"data":{"name":"legendlabels"},"transform":[{"filter":"datum.v == -1.5"}],"mark":{"type":"text","align":"center","baseline":"middle","font":"Liberation Sans","fontSize":11.5,"dx":-7.5,"color":"#000000"},
 "encoding":{
  "x":{"field":"v","type":"quantitative","scale":{"type":"linear","domain":[-1.65,1.65],"range":[205,324],"nice":false,"zero":false},"axis":null},
  "y":{"datum":1.86,"type":"quantitative","scale":{"type":"linear","domain":[0,1],"range":[35.5,46],"nice":false,"zero":false},"axis":null},
  "text":{"field":"label"}
 }},
{"data":{"name":"legendlabels"},"transform":[{"filter":"datum.v == 1.5"}],"mark":{"type":"text","align":"center","baseline":"middle","font":"Liberation Sans","fontSize":11.5,"dx":14.4,"color":"#000000"},
 "encoding":{
  "x":{"field":"v","type":"quantitative","scale":{"type":"linear","domain":[-1.65,1.65],"range":[205,324],"nice":false,"zero":false},"axis":null},
  "y":{"datum":1.86,"type":"quantitative","scale":{"type":"linear","domain":[0,1],"range":[35.5,46],"nice":false,"zero":false},"axis":null},
  "text":{"field":"label"}
 }}
],
"resolve":{"scale":{"x":"independent","y":"independent","color":"independent"}}
}
